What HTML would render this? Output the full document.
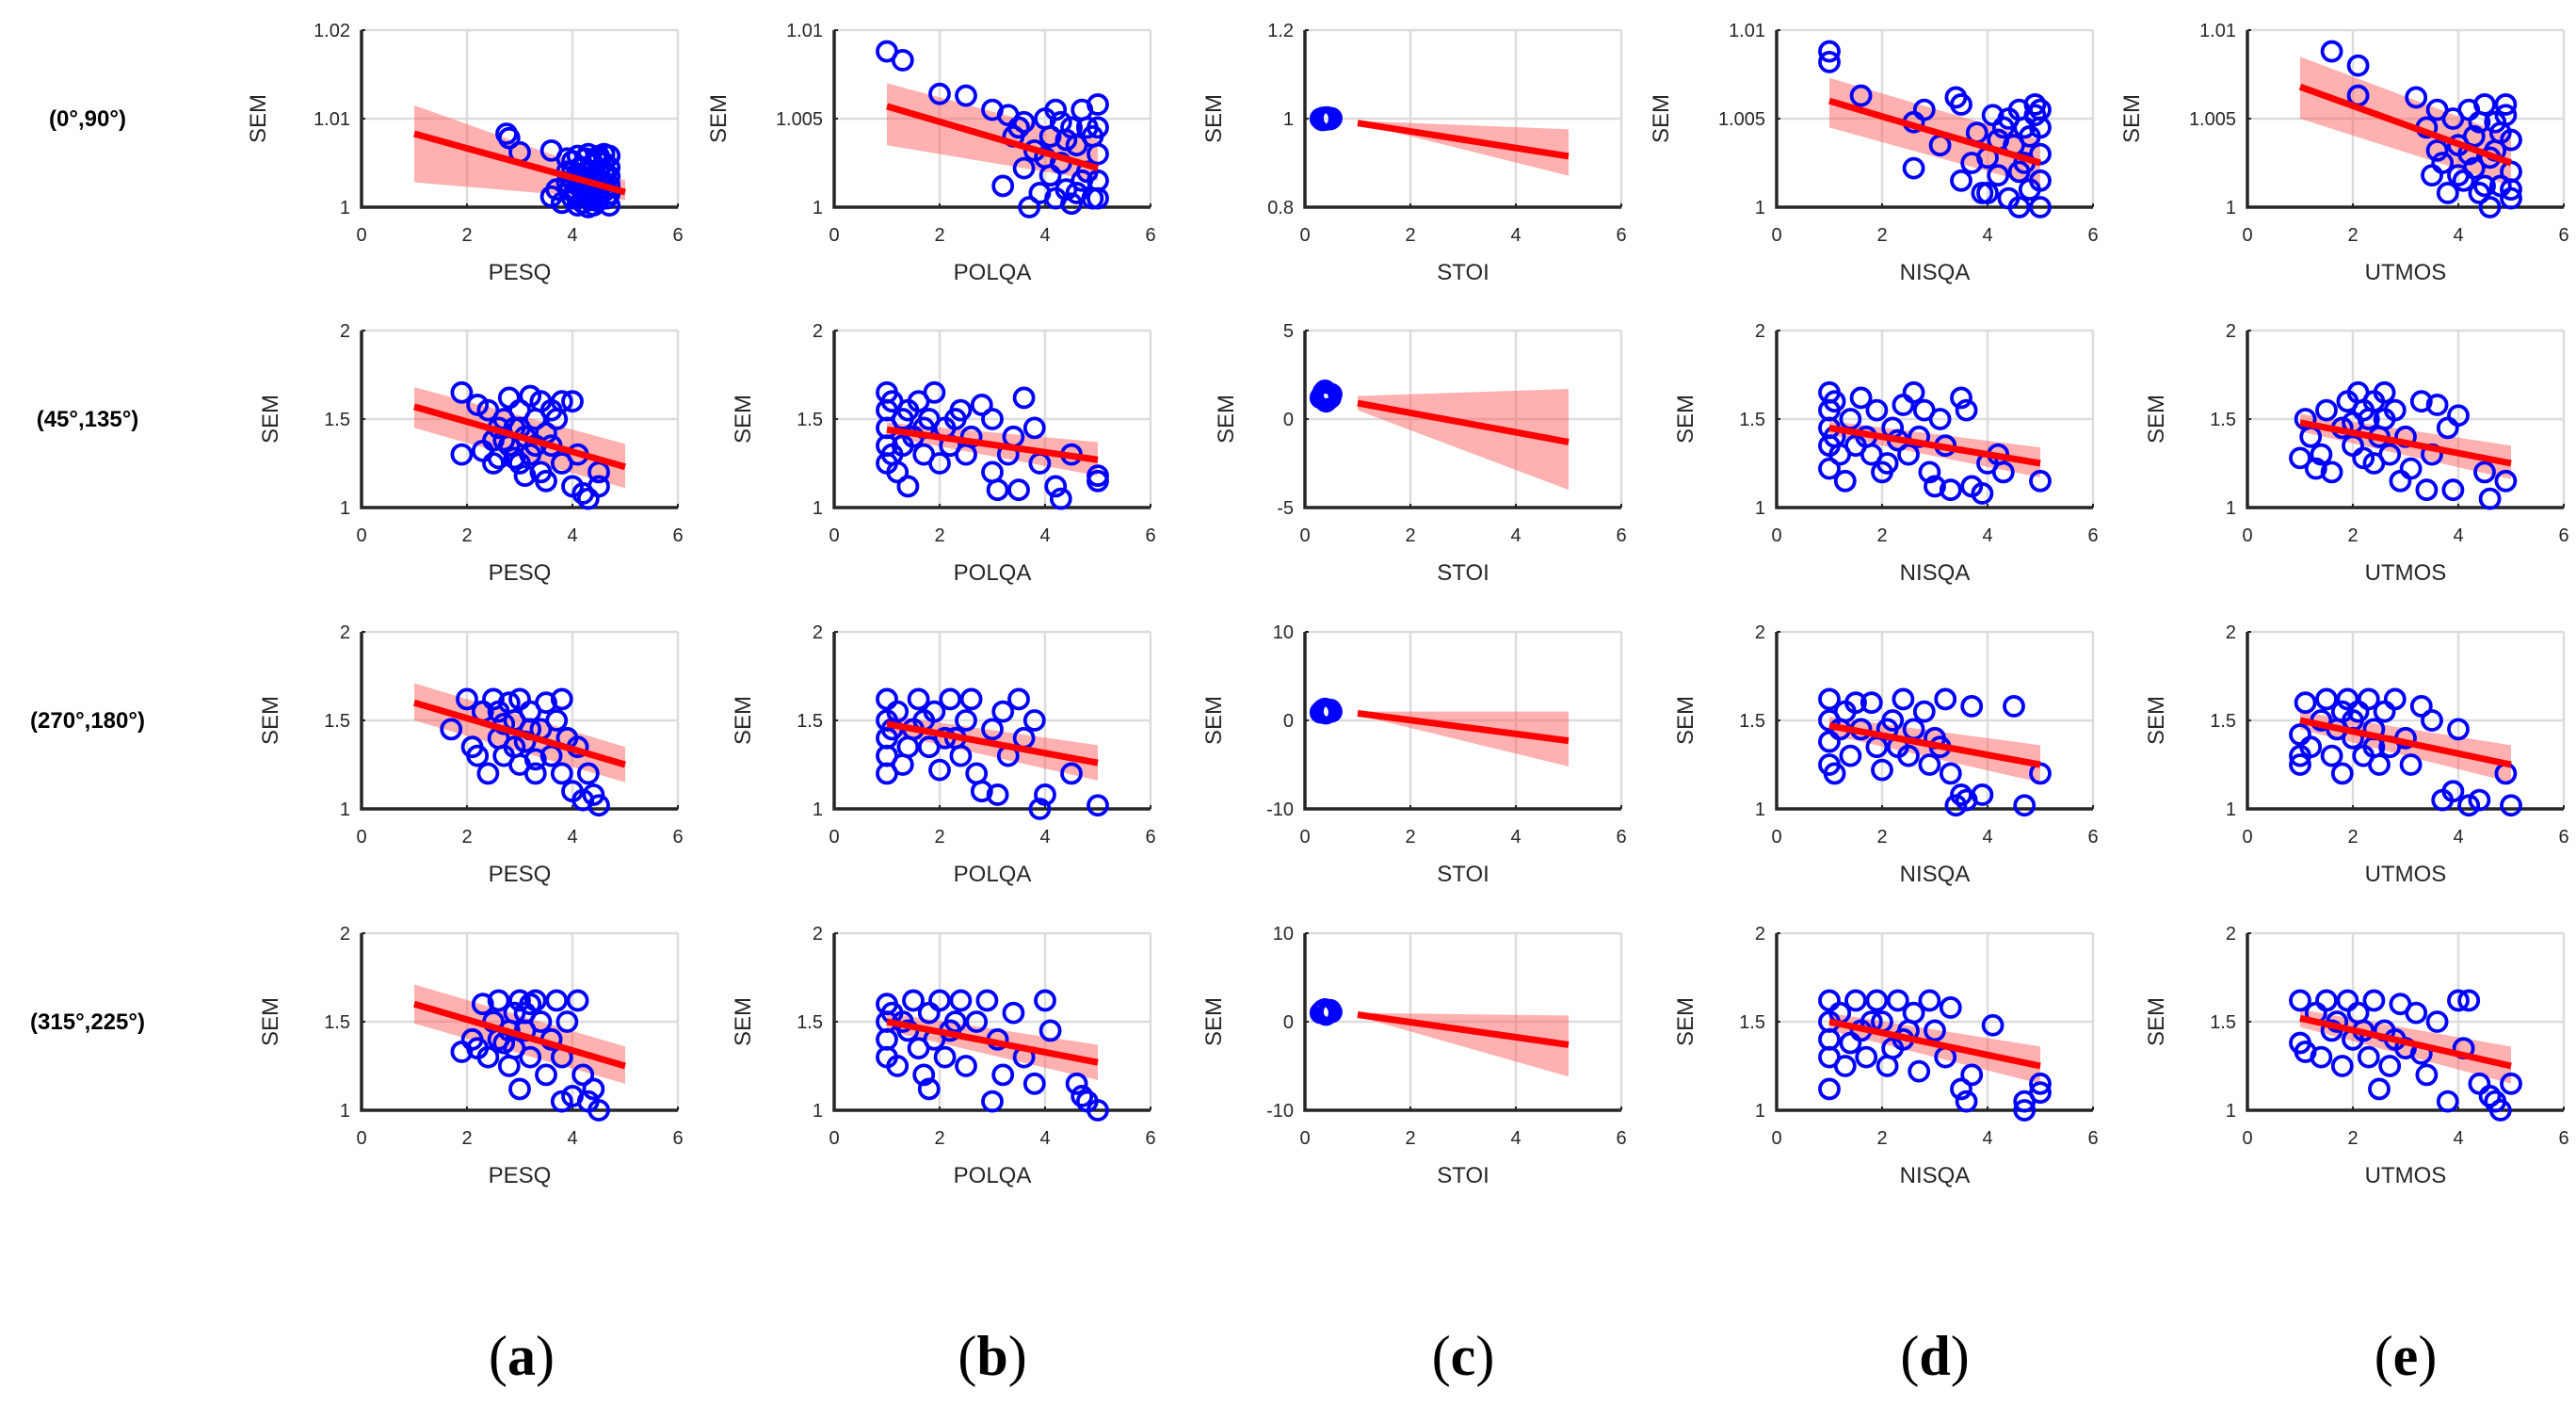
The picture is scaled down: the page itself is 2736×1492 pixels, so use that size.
<!DOCTYPE html>
<html><head><meta charset="utf-8">
<style>
html,body{margin:0;padding:0;background:#fff;}
svg{display:block;}
</style></head>
<body>
<svg id="fig" width="2736" height="1492" viewBox="0 0 2736 1492" xmlns="http://www.w3.org/2000/svg"></svg>
<script>
// ---- data ----
const rowLabels = ["(0°,90°)","(45°,135°)","(270°,180°)","(315°,225°)"];
const colMetrics = ["PESQ","POLQA","STOI","NISQA","UTMOS"];
const colLetters = ["a","b","c","d","e"];
const xTicks = [0,2,4,6];
const yTicksR1 = [[1,1.01,1.02],[1,1.005,1.01],[0.8,1,1.2],[1,1.005,1.01],[1,1.005,1.01]];
const yTickLabelsR1 = [["1","1.01","1.02"],["1","1.005","1.01"],["0.8","1","1.2"],["1","1.005","1.01"],["1","1.005","1.01"]];
const yTicksStd = [1,1.5,2];
const yTickLabelsStd = ["1","1.5","2"];
const yTicksStoi = [[-5,0,5],[-10,0,10],[-10,0,10]];
const yTickLabelsStoi = [["-5","0","5"],["-10","0","10"],["-10","0","10"]];

// regression lines: [y at x=1, y at x=5]
const fitLines = [
 [[1.0083,1.0017],[1.0057,1.0022],[0.99,0.915],[1.006,1.0025],[1.0068,1.0025]],
 [[1.57,1.23],[1.44,1.27],[0.9,-1.3],[1.45,1.25],[1.48,1.25]],
 [[1.6,1.25],[1.48,1.26],[0.8,-2.3],[1.47,1.25],[1.5,1.25]],
 [[1.6,1.25],[1.5,1.27],[0.8,-2.6],[1.5,1.25],[1.52,1.25]]
];
// confidence bands: [hi at 1, hi at 5, lo at 1, lo at 5]
const fitBands = [
 [[1.0115,1.003,1.0028,1.0008],[1.007,1.0038,1.0035,1.0015],[0.995,0.976,0.99,0.871],[1.0073,1.0038,1.0045,1.0012],[1.0085,1.004,1.005,1.0012]],
 [[1.68,1.36,1.45,1.11],[1.48,1.37,1.40,1.18],[1.3,1.7,0.5,-4],[1.49,1.34,1.41,1.17],[1.53,1.35,1.43,1.16]],
 [[1.71,1.35,1.50,1.15],[1.53,1.36,1.43,1.16],[1.0,1.0,0.6,-5.2],[1.52,1.36,1.42,1.15],[1.55,1.36,1.45,1.15]],
 [[1.71,1.36,1.49,1.15],[1.55,1.37,1.45,1.17],[1.0,0.7,0.6,-6.2],[1.55,1.36,1.45,1.15],[1.57,1.36,1.47,1.15]]
];

const r1_pesq = [[2.75,1.0083],[2.8,1.0078],[3.0,1.0062],[3.6,1.0064],[3.6,1.0012],[3.7,1.002],[3.8,1.0005],[3.9,1.0055],[4.0,1.003],[4.0,1.001],[4.1,1.0058],[4.1,1.0002],[4.2,1.0045],[4.2,1.0015],[4.3,1.006],[4.3,1.0],[4.4,1.0035],[4.4,1.0025],[4.5,1.0058],[4.5,1.0008],[4.6,1.004],[4.6,1.0018],[4.7,1.0058],[4.7,1.0002],[4.2,1.003],[4.4,1.0048],[4.6,1.0028],[3.9,1.004],[4.1,1.0035],[4.3,1.001],[4.5,1.0015],[4.7,1.0035],[4.0,1.0052],[4.2,1.0022],[4.4,1.0008],[4.6,1.005],[3.95,1.002],[4.15,1.0045],[4.35,1.004],[4.55,1.003],[4.65,1.001],[4.25,1.0055],[4.05,1.0015],[4.45,1.0055],[4.7,1.0045],[4.7,1.0015],[4.7,1.0025],[4.5,1.004],[4.3,1.0025],[4.1,1.0025],[3.9,1.0028],[4.6,1.006],[4.4,1.0002],[4.2,1.0005],[4.0,1.004],[4.5,1.002]];
const r1_polqa = [[1,1.0088],[1.3,1.0083],[2,1.0064],[2.5,1.0063],[3.0,1.0055],[3.3,1.0052],[3.5,1.0045],[3.2,1.0012],[3.6,1.0022],[3.8,1.0032],[4,1.005],[4.1,1.004],[4.2,1.0055],[4.3,1.0025],[4.4,1.001],[4.5,1.0045],[4.6,1.0035],[4.7,1.0055],[4.8,1.002],[4.9,1.0005],[5.0,1.0058],[5.0,1.003],[5.0,1.0015],[3.9,1.0008],[4.1,1.0018],[4.6,1.0008],[4.8,1.0045],[3.7,1.0],[4.3,1.0048],[4.9,1.004],[5,1.0045],[4.5,1.0002],[3.4,1.004],[4.0,1.0028],[4.4,1.0038],[4.7,1.0015],[3.6,1.0048],[5,1.0005],[4.2,1.0005]];
const r1_stoi = [[0.3,1.0],[0.35,1.002],[0.4,0.998],[0.45,1.0],[0.5,1.001],[0.38,1.0],[0.42,1.003],[0.33,0.997],[0.48,0.999]];
const r1_nisqa = [[1,1.0088],[1,1.0082],[1.6,1.0063],[2.6,1.0048],[2.8,1.0055],[2.6,1.0022],[3.1,1.0035],[3.4,1.0062],[3.5,1.0058],[3.5,1.0015],[3.8,1.0042],[3.9,1.0008],[4.0,1.0028],[4.1,1.0052],[4.2,1.0018],[4.3,1.0045],[4.4,1.0005],[4.5,1.0035],[4.6,1.0055],[4.7,1.0025],[4.8,1.001],[4.9,1.0058],[5.0,1.0045],[5.0,1.003],[5.0,1.0015],[5.0,1.0],[4.9,1.0052],[4.6,1.0],[4.2,1.0038],[3.7,1.0025],[4.8,1.004],[5,1.0055],[4.4,1.005],[4.7,1.0045],[4.0,1.0008],[4.6,1.002]];
const r1_utmos = [[1.6,1.0088],[2.1,1.008],[2.1,1.0063],[3.2,1.0062],[3.4,1.0045],[3.6,1.0032],[3.5,1.0018],[3.7,1.0025],[3.9,1.005],[4.0,1.0035],[4.1,1.0015],[4.2,1.0055],[4.3,1.004],[4.4,1.0008],[4.5,1.0058],[4.6,1.0028],[4.7,1.0048],[4.8,1.0012],[4.9,1.0052],[5.0,1.0038],[5.0,1.002],[5.0,1.0005],[4.3,1.0022],[4.6,1.0],[3.8,1.0008],[4.9,1.0058],[4.2,1.003],[4.8,1.0042],[3.6,1.0055],[5,1.001],[4.4,1.0048],[4.7,1.0032],[4.0,1.0018],[4.5,1.0012]];
const r2_pesq = [[1.9,1.65],[1.9,1.3],[2.2,1.58],[2.4,1.55],[2.5,1.38],[2.6,1.28],[2.7,1.5],[2.8,1.62],[2.8,1.35],[2.9,1.45],[3.0,1.25],[3.0,1.55],[3.1,1.4],[3.2,1.63],[3.2,1.3],[3.3,1.5],[3.4,1.2],[3.4,1.6],[3.5,1.42],[3.5,1.15],[3.6,1.35],[3.7,1.5],[3.8,1.6],[3.8,1.25],[4.0,1.6],[4.0,1.12],[4.1,1.3],[4.2,1.08],[4.3,1.05],[4.5,1.2],[4.5,1.12],[2.6,1.45],[2.3,1.32],[3.1,1.18],[2.9,1.28],[2.7,1.38],[3.3,1.35],[3.0,1.45],[2.5,1.25],[3.6,1.55]];
const r2_polqa = [[1,1.65],[1,1.55],[1,1.45],[1,1.35],[1,1.25],[1.1,1.6],[1.1,1.3],[1.3,1.5],[1.4,1.12],[1.5,1.4],[1.6,1.6],[1.7,1.3],[1.8,1.5],[1.9,1.65],[2.0,1.25],[2.1,1.45],[2.2,1.35],[2.4,1.55],[2.5,1.3],[2.6,1.4],[2.8,1.58],[3.0,1.5],[3.0,1.2],[3.1,1.1],[3.3,1.3],[3.4,1.4],[3.5,1.1],[3.6,1.62],[3.8,1.45],[3.9,1.25],[4.2,1.12],[4.3,1.05],[4.5,1.3],[5.0,1.18],[5.0,1.15],[1.2,1.2],[1.4,1.55],[1.7,1.45],[2.3,1.5],[1.3,1.35]];
const r2_stoi = [[0.3,1.2],[0.35,1.5],[0.4,1.0],[0.45,1.3],[0.5,1.4],[0.38,1.6],[0.42,1.1],[0.33,1.35],[0.48,1.2],[0.4,1.45]];
const r2_nisqa = [[1,1.65],[1,1.55],[1,1.45],[1,1.35],[1,1.22],[1.1,1.6],[1.2,1.3],[1.3,1.15],[1.4,1.5],[1.6,1.62],[1.7,1.4],[1.8,1.3],[1.9,1.55],[2.0,1.2],[2.2,1.45],[2.4,1.58],[2.5,1.3],[2.6,1.65],[2.7,1.4],[2.8,1.55],[2.9,1.2],[3.0,1.12],[3.1,1.5],[3.2,1.35],[3.3,1.1],[3.5,1.62],[3.6,1.55],[3.7,1.12],[3.9,1.08],[4.0,1.25],[4.2,1.3],[4.3,1.2],[5.0,1.15],[2.1,1.25],[1.5,1.35],[1.1,1.4],[2.3,1.38]];
const r2_utmos = [[1.0,1.28],[1.1,1.5],[1.2,1.4],[1.4,1.3],[1.5,1.55],[1.6,1.2],[1.8,1.45],[1.9,1.6],[2.0,1.35],[2.1,1.65],[2.2,1.28],[2.3,1.5],[2.4,1.6],[2.5,1.4],[2.6,1.65],[2.7,1.3],[2.8,1.55],[2.9,1.15],[3.0,1.4],[3.1,1.22],[3.3,1.6],[3.4,1.1],[3.5,1.3],[3.6,1.58],[3.8,1.45],[3.9,1.1],[4.0,1.52],[4.5,1.2],[4.6,1.05],[4.9,1.15],[1.3,1.22],[2.4,1.25],[2.2,1.55],[2.0,1.48],[2.6,1.5]];
const r3_pesq = [[1.7,1.45],[2.0,1.62],[2.1,1.35],[2.3,1.55],[2.4,1.2],[2.5,1.62],[2.6,1.4],[2.7,1.3],[2.8,1.6],[2.9,1.5],[3.0,1.25],[3.0,1.62],[3.1,1.38],[3.2,1.55],[3.3,1.2],[3.4,1.45],[3.5,1.6],[3.6,1.3],[3.7,1.5],[3.8,1.62],[3.8,1.2],[3.9,1.4],[4.0,1.1],[4.1,1.35],[4.2,1.05],[4.3,1.2],[4.4,1.08],[4.5,1.02],[2.2,1.3],[3.3,1.28],[2.6,1.55],[2.9,1.35],[3.2,1.45],[2.7,1.48]];
const r3_polqa = [[1,1.62],[1,1.5],[1,1.4],[1,1.3],[1,1.2],[1.2,1.55],[1.3,1.25],[1.5,1.45],[1.6,1.62],[1.8,1.35],[1.9,1.55],[2.0,1.22],[2.2,1.62],[2.3,1.4],[2.4,1.3],[2.5,1.5],[2.6,1.62],[2.7,1.2],[2.8,1.1],[3.0,1.45],[3.1,1.08],[3.2,1.55],[3.3,1.3],[3.5,1.62],[3.6,1.4],[3.8,1.5],[3.9,1.0],[4.0,1.08],[4.5,1.2],[5.0,1.02],[1.4,1.35],[1.1,1.45],[1.7,1.5],[2.1,1.4]];
const r3_stoi = [[0.3,0.9],[0.35,1.2],[0.4,0.8],[0.45,1.1],[0.5,1.0],[0.38,1.3],[0.42,0.9],[0.33,1.1],[0.48,1.2]];
const r3_nisqa = [[1,1.62],[1,1.5],[1,1.38],[1,1.25],[1.1,1.2],[1.3,1.55],[1.4,1.3],[1.6,1.45],[1.8,1.6],[1.9,1.35],[2.0,1.22],[2.2,1.5],[2.4,1.62],[2.5,1.3],[2.6,1.45],[2.8,1.55],[2.9,1.25],[3.0,1.4],[3.2,1.62],[3.3,1.2],[3.4,1.02],[3.5,1.08],[3.6,1.05],[3.7,1.58],[3.9,1.08],[4.5,1.58],[4.7,1.02],[5.0,1.2],[3.1,1.35],[2.3,1.35],[1.2,1.45],[1.5,1.6],[2.1,1.45]];
const r3_utmos = [[1,1.42],[1,1.3],[1.0,1.25],[1.1,1.6],[1.2,1.35],[1.4,1.5],[1.5,1.62],[1.6,1.3],[1.7,1.45],[1.8,1.2],[1.9,1.62],[2.0,1.4],[2.1,1.55],[2.2,1.3],[2.3,1.62],[2.4,1.45],[2.5,1.25],[2.6,1.55],[2.7,1.35],[2.8,1.62],[3.0,1.4],[3.1,1.25],[3.3,1.58],[3.5,1.5],[3.7,1.05],[3.9,1.1],[4.0,1.45],[4.2,1.02],[4.4,1.05],[4.9,1.2],[5.0,1.02],[2.0,1.5],[2.4,1.35],[1.8,1.55]];
const r4_pesq = [[1.9,1.33],[2.1,1.4],[2.3,1.6],[2.4,1.3],[2.5,1.5],[2.6,1.62],[2.7,1.38],[2.8,1.25],[2.9,1.55],[3.0,1.62],[3.0,1.12],[3.1,1.45],[3.2,1.3],[3.3,1.62],[3.4,1.5],[3.5,1.2],[3.6,1.4],[3.7,1.62],[3.8,1.3],[3.9,1.5],[4.0,1.08],[4.1,1.62],[4.2,1.2],[4.3,1.05],[4.4,1.12],[4.5,1.0],[3.8,1.05],[2.2,1.35],[3.2,1.6],[2.8,1.45],[2.6,1.4],[3.1,1.55],[2.9,1.35]];
const r4_polqa = [[1,1.6],[1,1.5],[1,1.4],[1,1.3],[1.1,1.55],[1.2,1.25],[1.4,1.45],[1.5,1.62],[1.6,1.35],[1.7,1.2],[1.8,1.55],[2.0,1.62],[2.1,1.3],[2.2,1.45],[2.4,1.62],[2.5,1.25],[2.7,1.5],[2.9,1.62],[3.0,1.05],[3.1,1.4],[3.2,1.2],[3.4,1.55],[3.6,1.3],[3.8,1.15],[4.0,1.62],[4.1,1.45],[4.6,1.15],[4.7,1.08],[4.8,1.05],[5.0,1.0],[1.8,1.12],[1.3,1.5],[2.3,1.5],[1.9,1.4]];
const r4_stoi = [[0.3,1.0],[0.35,1.3],[0.4,0.8],[0.45,1.2],[0.5,1.1],[0.38,1.4],[0.42,0.9],[0.33,1.2],[0.48,1.3]];
const r4_nisqa = [[1,1.62],[1,1.5],[1,1.4],[1,1.3],[1,1.12],[1.2,1.55],[1.3,1.25],[1.5,1.62],[1.6,1.45],[1.7,1.3],[1.9,1.62],[2.0,1.5],[2.1,1.25],[2.3,1.62],[2.4,1.4],[2.6,1.55],[2.7,1.22],[2.9,1.62],[3.0,1.45],[3.2,1.3],[3.3,1.58],[3.5,1.12],[3.6,1.05],[3.7,1.2],[4.1,1.48],[4.7,1.05],[4.7,1.0],[5.0,1.15],[5.0,1.1],[2.2,1.35],[1.4,1.38],[1.8,1.5],[2.5,1.45]];
const r4_utmos = [[1,1.62],[1.0,1.38],[1.1,1.33],[1.3,1.55],[1.4,1.3],[1.5,1.62],[1.6,1.45],[1.8,1.25],[1.9,1.62],[2.0,1.4],[2.1,1.55],[2.3,1.3],[2.4,1.62],[2.5,1.12],[2.6,1.45],[2.7,1.25],[2.9,1.6],[3.0,1.35],[3.2,1.55],[3.4,1.2],[3.6,1.5],[3.8,1.05],[4.0,1.62],[4.1,1.35],[4.2,1.62],[4.4,1.15],[4.6,1.08],[4.7,1.05],[4.8,1.0],[5.0,1.15],[3.3,1.32],[2.2,1.45],[1.7,1.5],[2.8,1.4]];
const scatterData = [
 [r1_pesq,r1_polqa,r1_stoi,r1_nisqa,r1_utmos],
 [r2_pesq,r2_polqa,r2_stoi,r2_nisqa,r2_utmos],
 [r3_pesq,r3_polqa,r3_stoi,r3_nisqa,r3_utmos],
 [r4_pesq,r4_polqa,r4_stoi,r4_nisqa,r4_utmos]
];

// ---- layout ----
const NS="http://www.w3.org/2000/svg";
const svg=document.getElementById('fig');
const colLeft=[384,886,1386,1887,2387];
const rowTop=[32,351,671,991];
const PW=336, PH=188;
function mk(tag,attrs,parent){const e=document.createElementNS(NS,tag);for(const k in attrs)e.setAttribute(k,attrs[k]);(parent||svg).appendChild(e);return e;}

for(let r=0;r<4;r++){
  const rl=mk('text',{x:93,y:rowTop[r]+PH/2+8,'text-anchor':'middle','font-family':'Liberation Sans, sans-serif','font-size':24,'font-weight':'bold',fill:'#000'});
  
  
  rl.textContent=rowLabels[r];
  for(let c=0;c<5;c++){
    const L=colLeft[c], T=rowTop[r];
    let yt, ytl;
    if(r===0){yt=yTicksR1[c];ytl=yTickLabelsR1[c];}
    else if(c===2){yt=yTicksStoi[r-1];ytl=yTickLabelsStoi[r-1];}
    else {yt=yTicksStd;ytl=yTickLabelsStd;}
    const y0=yt[0], y1=yt[yt.length-1];
    const sx=v=>L+(v-0)/(6-0)*PW;
    const sy=v=>T+PH-(v-y0)/(y1-y0)*PH;
    const g=mk('g',{});
    
    
    xTicks.forEach(t=>{mk('line',{x1:sx(t),x2:sx(t),y1:T,y2:T+PH,stroke:'#dcdcdc','stroke-width':2.5},g);});
    yt.forEach(t=>{mk('line',{x1:L,x2:L+PW,y1:sy(t),y2:sy(t),stroke:'#dcdcdc','stroke-width':2.5},g);});
    const ax=mk('path',{d:`M${L},${T} V${T+PH} H${L+PW}`,fill:'none',stroke:'#262626','stroke-width':3.5},g);
    
    
    xTicks.forEach(t=>{
      mk('line',{x1:sx(t),x2:sx(t),y1:T+PH,y2:T+PH-4,stroke:'#262626','stroke-width':2},g);
      const tx=mk('text',{x:sx(t),y:T+PH+36,'text-anchor':'middle','font-family':'Liberation Sans, sans-serif','font-size':20,fill:'#262626'},g);
      
      
      tx.textContent=t;
    });
    let maxC=0;
    yt.forEach((t,i)=>{
      mk('line',{x1:L,x2:L+4,y1:sy(t),y2:sy(t),stroke:'#262626','stroke-width':2},g);
      const tx=mk('text',{x:L-12,y:sy(t)+7,'text-anchor':'end','font-family':'Liberation Sans, sans-serif','font-size':20,fill:'#262626'},g);
      
      
      tx.textContent=ytl[i];
      maxC=Math.max(maxC,ytl[i].length);
    });
    const xl=mk('text',{x:L+PW/2,y:T+PH+77,'text-anchor':'middle','font-family':'Liberation Sans, sans-serif','font-size':24,fill:'#262626'},g);
    
    
    xl.textContent=colMetrics[c];
    const yx=L-(50+13*maxC);
    const yl=mk('text',{x:yx,y:T+PH/2,'text-anchor':'middle','font-family':'Liberation Sans, sans-serif','font-size':24,fill:'#262626',transform:`rotate(-90 ${yx} ${T+PH/2})`},g);
    
    
    yl.textContent='SEM';
    const b=fitBands[r][c];
    const band=mk('polygon',{points:`${sx(1)},${sy(b[0])} ${sx(5)},${sy(b[1])} ${sx(5)},${sy(b[3])} ${sx(1)},${sy(b[2])}`,fill:'rgba(255,80,80,0.45)',stroke:'none'},g);
    
    
    scatterData[r][c].forEach(p=>{
      const ci=mk('circle',{cx:sx(p[0]),cy:sy(p[1]),r:10,fill:'none',stroke:'#0000ff','stroke-width':3.8},g);
      
      
    });
    const f=fitLines[r][c];
    const fl=mk('line',{x1:sx(1),y1:sy(f[0]),x2:sx(5),y2:sy(f[1]),stroke:'#ff0000','stroke-width':7},g);
    
    
  }
}
const cx=[554,1054,1554,2055,2555];
colLetters.forEach((l,i)=>{
  const t=mk('text',{x:cx[i],y:1460,'text-anchor':'middle','font-family':'Liberation Serif, serif','font-size':60,fill:'#000'});
  
  
  const a=mk('tspan',{},t);a.textContent='(';
  const bb=mk('tspan',{'font-weight':'bold'},t);bb.textContent=l;
  const cc=mk('tspan',{},t);cc.textContent=')';
});
</script>
</body></html>
